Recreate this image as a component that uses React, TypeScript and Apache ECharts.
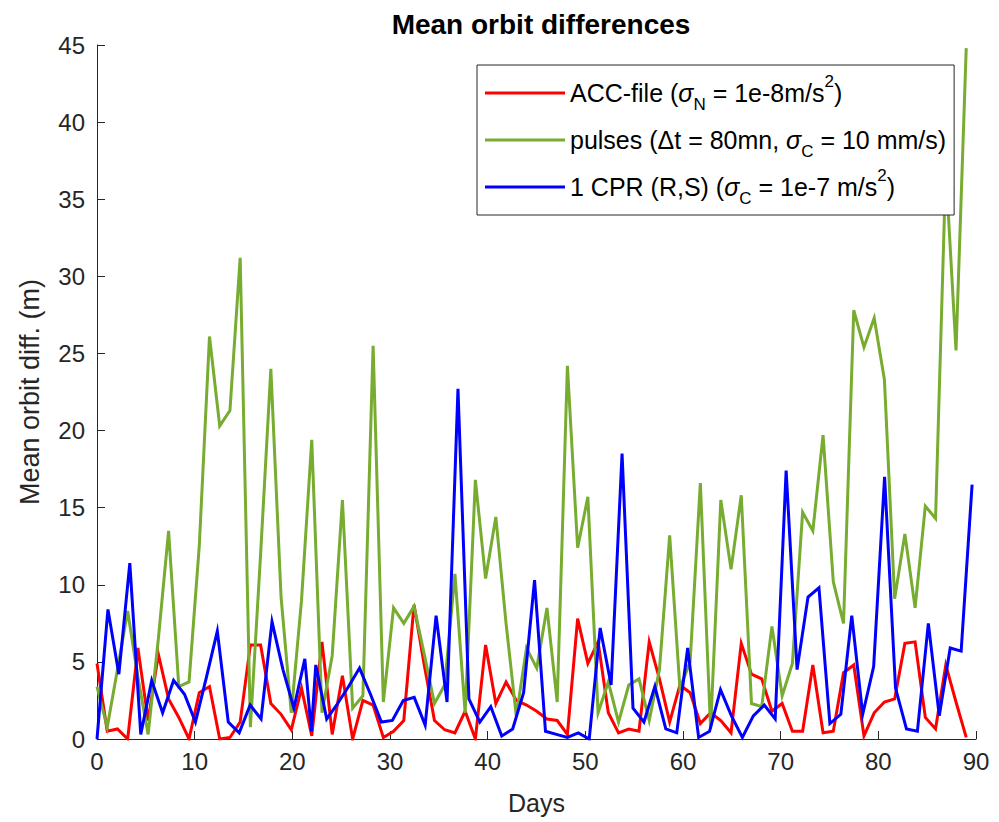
import React, { useEffect, useRef } from "react";
import * as echarts from "echarts";

// ---- data ----
// ACC-file and pulses series share the same sampling (86 samples over 0..89 days)
const rgStep = 89 / 85;

const accFile = [
  4.9, 0.5, 0.65, 0, 5.9, 1.2, 5.5, 2.6, 1.4, 0,
  3.0, 3.4, 0, 0.1, 1.1, 6.1, 6.1, 2.3, 1.6, 0.6,
  3.3, 0.2, 6.3, 0.3, 4.1, 0, 2.5, 2.2, 0.1, 0.5,
  1.2, 8.7, 4.8, 1.2, 0.6, 0.4, 1.8, 0, 6.1, 2.3,
  3.7, 2.5, 2.2, 1.8, 1.3, 1.2, 0.3, 7.8, 4.9, 6.3,
  1.7, 0.4, 0.65, 0.5, 6.3, 3.9, 1.1, 3.5, 3.0, 1.0,
  1.7, 1.2, 0.4, 6.2, 4.2, 3.9, 1.8, 2.3, 0.5, 0.5,
  4.8, 0.4, 0.5, 4.3, 4.8, 0.2, 1.7, 2.4, 2.6, 6.2,
  6.3, 1.4, 0.65, 4.8, 2.4, 0.1,
];

const pulses = [
  3.4, 0.76, 4.5, 8.3, 4.0, 0.3, 6.5, 13.5, 3.4, 3.7,
  12.5, 26.1, 20.3, 21.3, 31.2, 0.76, 12.0, 24.0, 9.2, 1.7,
  9.0, 19.4, 1.7, 5.4, 15.5, 2.0, 2.8, 25.5, 2.4, 8.5,
  7.5, 8.6, 5.5, 2.3, 3.5, 10.7, 1.7, 16.8, 10.4, 14.4,
  7.5, 1.5, 5.9, 4.6, 8.5, 2.4, 24.2, 12.4, 15.7, 1.7,
  3.7, 1.1, 3.5, 3.9, 1.2, 4.5, 13.2, 3.3, 5.0, 16.6,
  0.65, 15.5, 11.0, 15.8, 2.3, 2.1, 7.3, 2.8, 4.9, 14.7,
  13.5, 19.7, 10.2, 7.5, 27.8, 25.4, 27.3, 23.3, 9.1, 13.3,
  8.5, 15.1, 14.3, 37.0, 25.2, 44.8,
];

// 1 CPR series has its own sampling
const cprDays = [
  0, 1.12, 2.24, 3.36, 4.48, 5.6, 6.72, 7.84, 8.96, 10.08,
  11.2, 12.32, 13.44, 14.56, 15.68, 16.8, 17.92, 19.04, 20.16, 21.28,
  21.95, 22.4, 23.52, 24.64, 25.76, 26.88, 28, 29.12, 30.24, 31.36,
  32.48, 33.6, 34.72, 35.84, 36.96, 38.08, 39.2, 40.32, 41.44, 42.56,
  43.68, 44.8, 45.92, 47.04, 48.16, 49.28, 50.4, 51.52, 52.64, 53.76,
  54.88, 56, 57.12, 58.24, 59.36, 60.48, 61.6, 62.72, 63.84, 64.96,
  66.08, 67.2, 68.32, 69.44, 70.56, 71.68, 72.8, 73.92, 75.04, 76.16,
  77.28, 78.4, 79.52, 80.64, 81.76, 82.88, 84, 85.12, 86.24, 87.36,
  88.48, 89.6,
];
const cpr = [
  0, 8.4, 4.2, 11.4, 0.3, 3.8, 1.7, 3.8, 2.9, 1.1,
  4.0, 7.0, 1.1, 0.4, 2.2, 1.3, 7.6, 4.5, 2.0, 5.2,
  0.5, 4.8, 1.3, 2.3, 3.4, 4.6, 2.9, 1.1, 1.2, 2.5,
  2.7, 0.9, 8.0, 2.4, 22.7, 2.6, 1.1, 2.1, 0.2, 0.65,
  3.0, 10.3, 0.5, 0.3, 0.1, 0.4, 0, 7.2, 3.5, 18.5,
  2.0, 1.1, 3.4, 0.65, 0.4, 5.9, 0.1, 0.5, 3.2, 1.5,
  0.1, 1.5, 2.2, 1.3, 17.4, 4.5, 9.2, 9.8, 1.0, 1.6,
  8.0, 1.6, 4.7, 17.0, 3.3, 0.65, 0.5, 7.5, 1.5, 5.9,
  5.7, 16.5,
];

const seriesNames = ["ACC-file", "pulses", "1 CPR"];
const legendTexts: Record<string, string> = {
  "ACC-file": "ACC-file ({s|σ}{sub|N} = 1e-8m/s{sup|2})",
  pulses: "pulses (Δt = 80mn, {s|σ}{sub|C} = 10 mm/s)",
  "1 CPR": "1 CPR (R,S) ({s|σ}{sub|C} = 1e-7 m/s{sup|2})",
};
const colors = ["#FF0000", "#77AC30", "#0000FF"];

const FONT = "'Liberation Sans', Arial, Helvetica, sans-serif";
const AXIS = "#262626";

export default function App() {
  const ref = useRef<HTMLDivElement>(null);

  useEffect(() => {
    document.body.style.margin = "0";
    if (!ref.current) return;
    const chart = echarts.init(ref.current, undefined, { renderer: "svg" });

    const accData = accFile.map((v, i) => [i * rgStep, v]);
    const pulseData = pulses.map((v, i) => [i * rgStep, v]);
    const cprData = cpr.map((v, i) => [cprDays[i], v]);

    const lineSeries = (name: string, data: number[][], color: string) => ({
      name,
      type: "line",
      data,
      symbol: "none",
      showSymbol: false,
      clip: true,
      lineStyle: { color, width: 3, join: "miter", miterLimit: 6 },
      itemStyle: { color },
    });

    const axisCommon = {
      axisLine: { show: true, lineStyle: { color: AXIS, width: 1 } },
      axisTick: { show: true, inside: true, length: 8, lineStyle: { color: AXIS, width: 1 } },
      splitLine: { show: false },
    };

    chart.setOption({
      animation: false,
      backgroundColor: "#ffffff",
      color: colors,
      title: {
        text: "Mean orbit differences",
        left: 536,
        top: 5,
        textAlign: "center",
        textStyle: { fontFamily: FONT, fontSize: 28, fontWeight: "bold", color: "#000" },
      },
      grid: { left: 97, right: 23, top: 45, bottom: 83, containLabel: false },
      xAxis: {
        type: "value",
        min: 0,
        max: 90,
        interval: 10,
        name: "Days",
        nameLocation: "middle",
        nameGap: 51,
        nameTextStyle: { fontFamily: FONT, fontSize: 25, color: AXIS },
        ...axisCommon,
        axisLabel: { margin: 10, fontFamily: FONT, fontSize: 24, color: AXIS },
      },
      yAxis: {
        type: "value",
        min: 0,
        max: 45,
        interval: 5,
        name: "Mean orbit diff. (m)",
        nameLocation: "middle",
        nameGap: 54,
        nameRotate: 90,
        nameTextStyle: { fontFamily: FONT, fontSize: 27, color: AXIS },
        ...axisCommon,
        axisLabel: { margin: 12, fontFamily: FONT, fontSize: 24, color: AXIS },
      },
      legend: {
        data: seriesNames,
        orient: "vertical",
        left: 477,
        top: 65,
        padding: [8, 8, 8, 8],
        itemGap: 7,
        itemWidth: 80,
        itemHeight: 3,
        icon: "rect",
        backgroundColor: "#ffffff",
        borderColor: AXIS,
        borderWidth: 1,
        formatter: (name: string) => legendTexts[name],
        textStyle: {
          fontFamily: FONT,
          fontSize: 25,
          color: "#000",
          lineHeight: 40,
          rich: {
            s: { fontFamily: FONT, fontSize: 25, fontStyle: "italic", lineHeight: 40, color: "#000" },
            sub: { fontFamily: FONT, fontSize: 17, lineHeight: 16, verticalAlign: "bottom", color: "#000" },
            sup: { fontFamily: FONT, fontSize: 17, lineHeight: 28, verticalAlign: "top", color: "#000" },
          },
        },
      },
      series: [
        lineSeries(seriesNames[0], accData, colors[0]),
        lineSeries(seriesNames[1], pulseData, colors[1]),
        lineSeries(seriesNames[2], cprData, colors[2]),
      ],
    });

    return () => chart.dispose();
  }, []);

  return <div ref={ref} style={{ width: 999, height: 822 }} />;
}
